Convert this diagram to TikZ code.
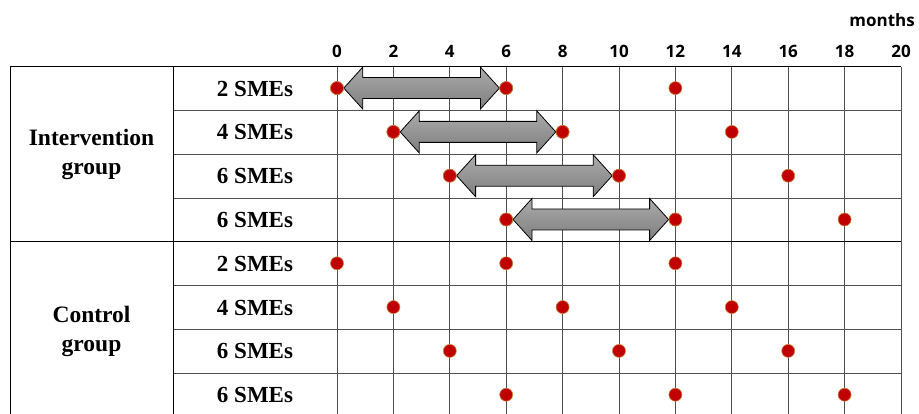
\documentclass[tikz,border=0pt]{standalone}
\usepackage{fontspec}
\setmainfont{Liberation Serif}
\newfontfamily\axisfont{Open Sans}
\usepackage{tikz}
\usetikzlibrary{calc}
\definecolor{DotRed}{HTML}{C00000}
\definecolor{DotRim}{HTML}{C8843C}
\definecolor{GridGray}{HTML}{505050}
\definecolor{ArrTop}{HTML}{ABABAB}
\definecolor{ArrBot}{HTML}{7E7E7E}

\begin{document}
\begin{tikzpicture}[
  x=1pt,y=-1pt,
  grid/.style={draw=GridGray,line width=.9pt},
  rule/.style={draw=black,line width=.9pt},
  tick/.style={font=\axisfont\bfseries\fontsize{17}{19}\selectfont,inner sep=0pt},
  rowlab/.style={font=\bfseries\fontsize{23}{26}\selectfont,inner sep=0pt},
  grplab/.style={font=\bfseries\fontsize{23.5}{29}\selectfont,align=center,inner sep=0pt},
  dot/.style={circle,fill=DotRed,draw=DotRim,line width=.6pt,minimum size=13pt,inner sep=0pt},
  blk/.style={draw=black,line width=.8pt,top color=ArrTop,bottom color=ArrBot}
]
\useasboundingbox (0,0) rectangle (919,414);
% month grid
\foreach \m in {0,2,...,20}
  \draw[grid] ({337+28.2*\m},66.7) -- ({337+28.2*\m},420);
\foreach \m in {0,2,...,20}
  \node[tick] (t\m) at ({337+28.2*\m},51) {\m};
\node[tick,anchor=east] (unit) at (915,20) {months};
% table rules
\draw[rule] (10,66.7) -- (901,66.7);
\draw[rule] (10,241.7) -- (901,241.7);
\foreach \y in {110.5,154.3,198,285.5,329.3,373.1}
  \draw[grid] (173,\y) -- (901,\y);
\draw[rule] (10,66.7) -- (10,420);
\draw[rule] (173,66.7) -- (173,420);
% labels
\node[grplab] (interv) at (91.5,154.5) {Intervention\\group};
\node[grplab] (ctrl) at (91.5,331) {Control\\group};
\foreach \r/\n in {1/2,2/4,3/6,4/6,5/2,6/4,7/6,8/6}
  \node[rowlab] (lab\r) at (255,{66.7+43.8*\r-21.9}) {\n\ SMEs};
% measurement points
\foreach \r/\s in {1/0,2/2,3/4,4/6,5/0,6/2,7/4,8/6}
  \foreach \k in {0,1,2}
    \node[dot] (p\r-\k) at ({337+28.2*(\s+6*\k)},{66.7+43.8*\r-22.4}) {};
% intervention periods
\foreach \r in {1,...,4}
  \path[blk] (p\r-0.east) -- ++(19,-21) -- ++(0,10.5)
    -- ($(p\r-1.west)+(-19,-10.5)$) -- ++(0,-10.5) -- (p\r-1.west)
    -- ++(-19,21) -- ++(0,-10.5) -- ($(p\r-0.east)+(19,10.5)$)
    -- ++(0,10.5) -- cycle;
\foreach \r in {1,...,4}
  \foreach \k in {0,1}
    \node[dot] at (p\r-\k) {};
\end{tikzpicture}
\end{document}
